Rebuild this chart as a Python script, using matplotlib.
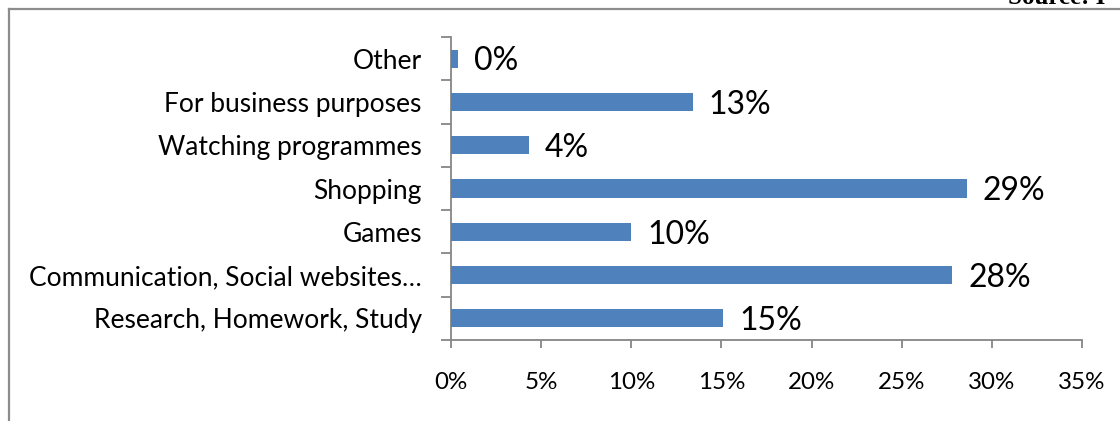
import matplotlib
matplotlib.use("Agg")
import matplotlib.pyplot as plt
from matplotlib.lines import Line2D
import numpy as np

# Internet usage purposes (share of respondents, %)
categories = [
    "Research, Homework, Study",
    "Communication, Social websites\u2026",
    "Games",
    "Shopping",
    "Watching programmes",
    "For business purposes",
    "Other",
]
shares = [15.1, 27.8, 10.0, 28.6, 4.3, 13.4, 0.4]
x_ticks = [0, 5, 10, 15, 20, 25, 30, 35]

BAR_BLUE = "#4F81BD"
AXIS_GREY = "#868686"
FONT = "Lato"

W, H = 1120, 421
fig = plt.figure(figsize=(W / 100, H / 100), dpi=100)
fig.patch.set_facecolor("white")

ax = fig.add_axes([451 / W, 1 - 340 / H, (1082 - 451) / W, (340 - 37) / H])
y = np.arange(len(categories))
ax.barh(y, shares, height=0.42, color=BAR_BLUE, zorder=3)

ax.set_xlim(0, 35)
ax.set_ylim(-0.5, len(categories) - 0.5)

# data labels
for yi, v in zip(y, shares):
    ax.annotate(f"{v:.0f}%", xy=(v, yi), xytext=(11.5, -2), textcoords="offset points",
                ha="left", va="center", fontsize=23, family=FONT, color="black")

# axes styling
for side in ("top", "right"):
    ax.spines[side].set_visible(False)
for side in ("left", "bottom"):
    ax.spines[side].set_color(AXIS_GREY)
    ax.spines[side].set_linewidth(1.3)

ax.set_xticks(x_ticks)
ax.set_xticklabels([f"{t}%" for t in x_ticks], family=FONT, fontsize=17.4)
ax.tick_params(axis="x", direction="out", length=5.8, width=1.3, color=AXIS_GREY, pad=17)

ax.set_yticks(y)
ax.set_yticklabels(categories, family=FONT, fontsize=19)
ax.set_yticks(np.arange(-0.5, len(categories), 1.0), minor=True)
ax.tick_params(axis="y", which="major", length=0, pad=21)
ax.tick_params(axis="y", which="minor", direction="out", length=7, width=1.3, color=AXIS_GREY)

# surrounding frame of the figure box
fig.add_artist(Line2D([9 / W, 9 / W], [0, 1 - 8.5 / H], transform=fig.transFigure,
                      color="#8c8c8c", lw=1.6))
fig.add_artist(Line2D([9 / W, 1], [1 - 8.5 / H, 1 - 8.5 / H], transform=fig.transFigure,
                      color="#8c8c8c", lw=1.6))

fig.text(1008 / W, 1 - 4 / H, "Source: I", family="Liberation Serif", fontweight="bold",
         fontsize=18, va="baseline", ha="left", color="black")

fig.savefig("out.png", dpi=100, facecolor="white")
